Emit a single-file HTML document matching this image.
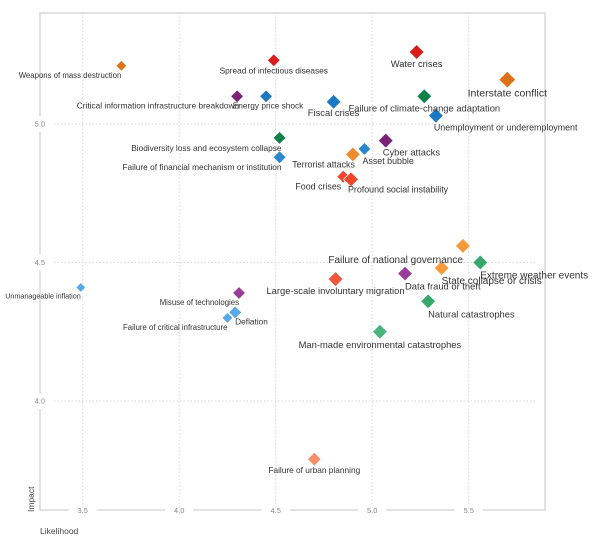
<!DOCTYPE html>
<html><head><meta charset="utf-8">
<style>
html,body{margin:0;padding:0;background:#fff;}
svg{display:block;font-family:"Liberation Sans",sans-serif;}
</style></head>
<body>
<svg id="chart" width="600" height="540" viewBox="0 0 600 540"></svg>
<script>
const riskNames = ["Weapons of mass destruction","Spread of infectious diseases","Water crises","Interstate conflict","Critical information infrastructure breakdown","Energy price shock","Fiscal crises","Failure of climate-change adaptation","Unemployment or underemployment","Biodiversity loss and ecosystem collapse","Failure of financial mechanism or institution","Cyber attacks","Asset bubble","Terrorist attacks","Food crises","Profound social instability","Failure of national governance","Extreme weather events","State collapse or crisis","Data fraud or theft","Large-scale involuntary migration","Natural catastrophes","Man-made environmental catastrophes","Unmanageable inflation","Misuse of technologies","Deflation","Failure of critical infrastructure","Failure of urban planning"];
const likelihood = [3.70,4.49,5.23,5.70,4.30,4.45,4.80,5.27,5.33,4.52,4.52,5.07,4.96,4.90,4.85,4.89,5.47,5.56,5.36,5.17,4.81,5.29,5.04,3.49,4.31,4.29,4.25,4.70];
const impact = [5.21,5.23,5.26,5.16,5.10,5.10,5.08,5.10,5.03,4.95,4.88,4.94,4.91,4.89,4.81,4.80,4.56,4.50,4.48,4.46,4.44,4.36,4.25,4.41,4.39,4.32,4.30,3.79];
const colors = ["#dd7318","#d91c1c","#d91c1c","#dd7318","#7b2178","#1c78c2","#1c78c2","#0f8048","#1c78c2","#0f8048","#2a87cc","#7b2178","#2a87cc","#ef8a30","#f2462c","#f2462c","#f59a3a","#37a76b","#f59a3a","#9a3d98","#f0583e","#37a76b","#4cb37c","#5aa8ea","#9a3d98","#5aa8ea","#5aa8ea","#f98f68"];
const xTicks = [3.5,4.0,4.5,5.0,5.5];
const yTicks = [4.0,4.5,5.0];
// label layout: anchor, dx, dy, font size, marker half-size
const labelLayout = [
 ["end",0,12,7.8,5.5],["middle",0,13,8.3,6.5],["middle",0,15,9.4,7.5],["middle",0,17,10.5,8.5],
 ["end",2,12,8.3,6.5],["middle",2,12,8.3,6.5],["middle",0,14,9.4,7.5],["middle",0,15,9.4,7.5],
 ["start",-2,15,8.9,7.5],["end",2,13,8.3,6.5],["end",2,13,8.3,6.5],["start",-3,15,9.4,7.5],
 ["start",-2,15,8.9,6.5],["end",2,13,8.9,7.5],["end",-2,13,8.9,6.5],["start",-3,13,8.9,7.5],
 ["end",0,17,10,7.5],["start",0,16,10,7.5],["start",0,16,10,7.5],["start",0,16,9.4,7.5],
 ["middle",0,15,9.4,7.5],["start",0,16,9.4,7.5],["middle",0,16,9.4,7.5],["end",0,11,7.2,5],
 ["end",0,12,7.8,6.5],["start",0,12,8.3,6.5],["end",0,12,7.8,5.5],["middle",0,14,8.3,7]
];
const ns = "http://www.w3.org/2000/svg";
const svg = document.getElementById("chart");
const L=40,R=545,T=13,B=510;
function xs(v){return 82.7+(v-3.5)*193;}
function ys(v){return 124-(v-5)*277;}
function mk(tag,attrs,parent){const e=document.createElementNS(ns,tag);for(const k in attrs)e.setAttribute(k,attrs[k]);(parent||svg).appendChild(e);return e;}

const grid=mk("g",{});


xTicks.forEach(t=>{mk("line",{x1:xs(t),x2:xs(t),y1:T,y2:B,stroke:"#d8d8d8","stroke-dasharray":"1.5,2","stroke-width":1},grid);});
yTicks.forEach(t=>{mk("line",{x1:L+14,x2:R-8,y1:ys(t),y2:ys(t),stroke:"#d8d8d8","stroke-dasharray":"1.5,2","stroke-width":1},grid);});

const frame=mk("rect",{x:L,y:T,width:R-L,height:B-T,fill:"none",stroke:"#cfcfcf","stroke-width":1.2});



xTicks.forEach(t=>{
 const x=xs(t);
 mk("rect",{x:x-14,y:B-2,width:28,height:4,fill:"#fff"});
 const tx=mk("text",{x:x,y:B+3,"text-anchor":"middle","font-size":7.5,fill:"#888"});
 tx.textContent=t.toFixed(1);
 
 
});
yTicks.forEach(t=>{
 const y=ys(t);
 mk("rect",{x:L-2,y:y-8,width:4,height:16,fill:"#fff"});
 const tx=mk("text",{x:L+5,y:y+2.5,"text-anchor":"end","font-size":7.5,fill:"#888"});
 tx.textContent=t.toFixed(1);
 
 
});

const pts=mk("g",{});


riskNames.forEach((n,i)=>{
 const x=xs(likelihood[i]),y=ys(impact[i]),s=labelLayout[i][4];
 const d=mk("polygon",{points:`${x},${y-s} ${x+s},${y} ${x},${y+s} ${x-s},${y}`,fill:colors[i],stroke:"#fff","stroke-width":0.8},pts);
 
 
});
riskNames.forEach((n,i)=>{
 const x=xs(likelihood[i]),y=ys(impact[i]),lay=labelLayout[i];
 const t=mk("text",{x:x+lay[1],y:y+lay[2],"text-anchor":lay[0],"font-size":lay[3],fill:"#333"},pts);
 t.textContent=n;
 
 
});

const yt=mk("text",{x:0,y:0,"font-size":8.5,fill:"#444","text-anchor":"start",transform:"translate(34,512) rotate(-90)"});
yt.textContent="Impact";


const xt=mk("text",{x:40,y:534,"font-size":8.5,fill:"#444"});
xt.textContent="Likelihood";


</script>
</body></html>
